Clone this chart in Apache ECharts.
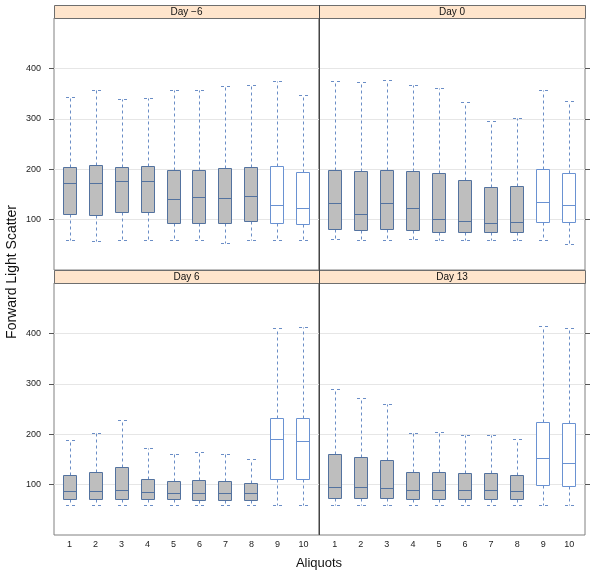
<!DOCTYPE html>
<html><head><meta charset="utf-8">
<script src="https://cdn.jsdelivr.net/npm/echarts@6.0.0/dist/echarts.min.js"></script>
<style>html,body{margin:0;padding:0;background:#fff}#chart{width:600px;height:574px}</style>
</head><body><div id="chart"></div>
<script>
const aliquots = [1, 2, 3, 4, 5, 6, 7, 8, 9, 10];
const panelTitles = ['Day \u22126', 'Day 0', 'Day 6', 'Day 13'];
const yTicks = [100, 200, 300, 400];
// each entry: [lower whisker, Q1, median, Q3, upper whisker]
const dayMinus6 = [[60,112,173,205,343],[58,109,173,209,357],[60,115,176,205,340],[60,115,177,206,342],[60,93,141,199,358],[60,94,145,199,357],[53,94,143,202,366],[60,97,147,204,368],[60,93,128,206,375],[60,92,124,194,347]];
const day0 = [[61,82,132,199,375],[60,80,112,197,374],[60,81,132,199,376],[62,80,123,197,368],[60,76,102,192,362],[60,76,97,178,333],[60,75,94,164,296],[60,76,96,166,301],[60,96,134,200,357],[51,96,129,192,336]];
const day6 = [[59,72,87,119,189],[59,72,87,125,202],[59,72,89,135,229],[59,71,85,112,173],[59,71,84,107,160],[59,70,84,109,165],[60,70,84,107,160],[59,70,83,103,151],[59,111,190,232,411],[59,111,187,233,413]];
const day13 = [[59,74,95,161,289],[59,74,95,154,272],[59,74,94,148,259],[59,72,90,125,202],[59,72,90,125,204],[59,72,90,123,198],[59,72,90,123,198],[59,71,88,119,191],[59,99,152,225,414],[59,97,142,223,410]];
const panelData = [dayMinus6, day0, day6, day13];

const grids = [
  {left: 54, top: 18, width: 265, height: 252},
  {left: 319, top: 18, width: 266, height: 252},
  {left: 54, top: 283, width: 265, height: 252},
  {left: 319, top: 283, width: 266, height: 252}
];
const FONT = 'Liberation Sans, Arial, Helvetica, sans-serif';
const px = v => Math.round(v) + 0.5;

function renderBox(params, api) {
  const x = api.value(0);
  const lo = api.coord([x, api.value(1)]);
  const q1 = api.coord([x, api.value(2)]);
  const md = api.coord([x, api.value(3)]);
  const q3 = api.coord([x, api.value(4)]);
  const hi = api.coord([x, api.value(5)]);
  const bw = 13;
  const cw = 9;
  const cx = px(q1[0]);
  const filled = x <= 8;
  const stroke = filled ? '#53729f' : '#6a92d2';
  const wh = '#6a8dc6';
  const dash = {stroke: wh, lineWidth: 1, lineDash: [3, 3], fill: null};
  const yl = px(lo[1]), y1 = px(q1[1]), ym = px(md[1]), y3 = px(q3[1]), yh = px(hi[1]);
  const bx = cx - Math.round(bw / 2);
  return {type: 'group', children: [
    {type: 'line', shape: {x1: cx, y1: y3, x2: cx, y2: yh}, style: dash},
    {type: 'line', shape: {x1: cx, y1: y1, x2: cx, y2: yl}, style: dash},
    {type: 'line', shape: {x1: cx - cw / 2, y1: yh, x2: cx + cw / 2, y2: yh}, style: dash},
    {type: 'line', shape: {x1: cx - cw / 2, y1: yl, x2: cx + cw / 2, y2: yl}, style: dash},
    {type: 'rect', shape: {x: bx, y: y3, width: bw, height: y1 - y3},
      style: {fill: filled ? '#bebebe' : '#ffffff', stroke: stroke, lineWidth: 1}},
    {type: 'line', shape: {x1: bx, y1: ym, x2: bx + bw, y2: ym},
      style: {stroke: stroke, lineWidth: 1}}
  ]};
}

const option = {
  animation: false,
  backgroundColor: '#fff',
  grid: grids.map(g => Object.assign({show: true, borderColor: '#808080', borderWidth: 1, backgroundColor: 'transparent', containLabel: false}, g)),
  xAxis: grids.map((g, i) => ({
    type: 'value', gridIndex: i, min: 0.4, max: 10.6,
    axisLine: {show: false}, axisTick: {show: false}, splitLine: {show: false},
    axisLabel: {show: i >= 2, customValues: aliquots, fontSize: 9, color: '#222', margin: 5, fontFamily: FONT}
  })),
  yAxis: grids.map((g, i) => ({
    type: 'value', gridIndex: i, min: 0, max: 500, interval: 100,
    position: i % 2 === 0 ? 'left' : 'right',
    axisLine: {show: false},
    axisTick: {show: true, customValues: yTicks, length: 5, lineStyle: {color: '#555'}},
    axisLabel: {show: i % 2 === 0, customValues: yTicks, fontSize: 9, color: '#222', margin: 13, fontFamily: FONT},
    splitLine: {show: true, lineStyle: {color: '#e6e6e6', width: 1}}
  })),
  series: panelData.map((d, i) => ({
    type: 'custom', xAxisIndex: i, yAxisIndex: i,
    encode: {x: 0, y: [1, 2, 3, 4, 5]},
    renderItem: renderBox,
    data: d.map((v, k) => [aliquots[k]].concat(v)),
    z: 3
  })),
  graphic: [].concat(
    grids.map((g, i) => ({
      type: 'rect', z: 10,
      shape: {x: g.left + 0.5, y: g.top - 12.5, width: g.width, height: 13},
      style: {fill: '#ffe5cc', stroke: '#6e6e6e', lineWidth: 1}
    })),
    grids.map((g, i) => ({
      type: 'text', z: 11,
      x: g.left + g.width / 2, y: g.top - 6,
      style: {text: panelTitles[i], fill: '#111', font: '10px ' + FONT, align: 'center', verticalAlign: 'middle'}
    })),
    [
      {type: 'line', z: 12, shape: {x1: 319.5, y1: 5, x2: 319.5, y2: 535}, style: {stroke: '#444', lineWidth: 1}},
      {type: 'text', z: 11, x: 319, y: 563,
        style: {text: 'Aliquots', fill: '#111', font: '13px ' + FONT, align: 'center', verticalAlign: 'middle'}},
      {type: 'text', z: 11, x: 12, y: 272, rotation: Math.PI / 2,
        style: {text: 'Forward Light Scatter', fill: '#111', font: '14px ' + FONT, align: 'center', verticalAlign: 'middle'}}
    ]
  )
};

const chart = echarts.init(document.getElementById('chart'), null, {renderer: 'canvas'});
chart.setOption(option);
</script>
</body></html>
